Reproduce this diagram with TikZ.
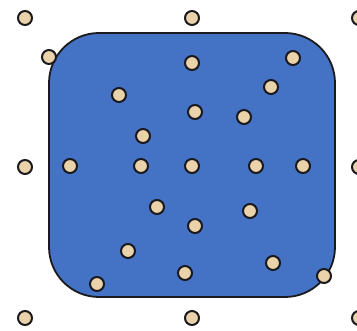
\documentclass[tikz,border=0pt]{standalone}
\definecolor{boxblue}{RGB}{68,114,196}
\definecolor{dottan}{RGB}{234,210,170}
\definecolor{edgedark}{RGB}{25,25,30}
\tikzset{
  dot/.style={circle, draw=edgedark, fill=dottan, line width=2pt, minimum size=14pt, inner sep=0pt},
  region/.style={draw=edgedark, fill=boxblue, line width=1.8pt, rounded corners=50pt}
}
\begin{document}
\begin{tikzpicture}[x=1pt,y=-1pt]
\useasboundingbox (0,0) rectangle (357,331);
\draw[region] (49,33) rectangle (335,297);
\foreach \n/\x/\y in {
  o1/25/18, o2/192/18, o3/359/18, o4/25/167, o5/359/167, o6/25/318, o7/192/318, o8/359/318,
  e1/49/57, e2/324/276,
  i1/192/63, i2/293/58, i3/119/95, i4/271/87, i5/195/112, i6/244/117, i7/143/136,
  i8/70/166, i9/141/166, i10/192/166, i11/256/166, i12/303/166,
  i13/157/207, i14/250/211, i15/195/226, i16/128/251, i17/273/263, i18/185/273, i19/97/284}
  \node[dot] (\n) at (\x,\y) {};
\end{tikzpicture}
\end{document}
